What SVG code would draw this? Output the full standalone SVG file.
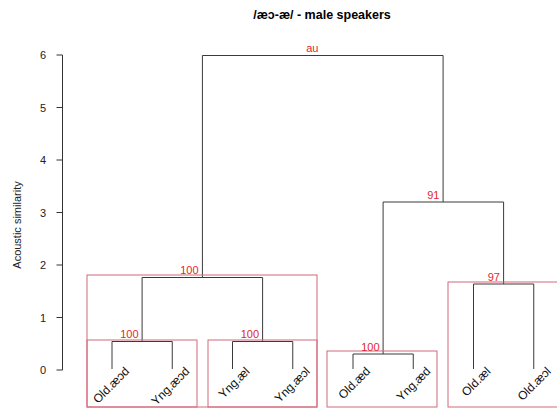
<svg xmlns="http://www.w3.org/2000/svg" width="557" height="408" viewBox="0 0 557 408">
  <style>
    text { font-family: "Liberation Sans", Arial, sans-serif; }
    .title { font-size: 12.5px; font-weight: bold; fill: #000; text-anchor: middle; }
    .axis { stroke: #333; stroke-width: 1; fill: none; }
    .tick { font-size: 11px; fill: #222; text-anchor: end; }
    .ylab { font-size: 11px; fill: #222; text-anchor: middle; }
    .branch { stroke: #3a3a3a; stroke-width: 1; fill: none; }
    .au { font-size: 11px; fill: #e3262c; text-anchor: end; }
    .box { stroke: #d4687b; stroke-width: 1; fill: none; }
    .leaf { font-size: 12px; fill: #111; text-anchor: end; }
  </style>

  <rect width="557" height="408" fill="#fff"/>

  <text class="title" x="322" y="18.5">/æɔ-æ/ - male speakers</text>

  <!-- vertical axis -->
  <g id="y-axis">
    <path class="axis" d="M62.5,55 V370 M56.5,55 H62.5 M56.5,107.5 H62.5 M56.5,160 H62.5 M56.5,212.5 H62.5 M56.5,265 H62.5 M56.5,317.5 H62.5 M56.5,370 H62.5"/>
    <text class="tick" x="46" y="59">6</text>
    <text class="tick" x="46" y="111.5">5</text>
    <text class="tick" x="46" y="164">4</text>
    <text class="tick" x="46" y="216.5">3</text>
    <text class="tick" x="46" y="269">2</text>
    <text class="tick" x="46" y="321.5">1</text>
    <text class="tick" x="46" y="374">0</text>
    <text class="ylab" transform="translate(20.5,225) rotate(-90)">Acoustic similarity</text>
  </g>

  <!-- dendrogram branches -->
  <g id="connectors">
    <path class="branch" d="M202.4,277.5 V55.5 H443.1 V202"/>
    <path class="branch" d="M142.1,341.5 V277.5 H262.6 V341.5"/>
    <path class="branch" d="M112,369 V341.5 H172.25 V369"/>
    <path class="branch" d="M232.5,369 V341.5 H292.75 V369"/>
    <path class="branch" d="M383.1,354 V202 H503.6 V284"/>
    <path class="branch" d="M353,369 V354 H413.25 V369"/>
    <path class="branch" d="M473.5,369 V284 H533.75 V369"/>
  </g>

  <!-- clusters: support values and highlighted groups -->
  <g id="root">
    <text class="au" x="318.5" y="51.5">au</text>
  </g>
  <g id="cluster-left">
    <rect class="box" x="87" y="275" width="230" height="132"/>
    <text class="au" x="198.5" y="274">100</text>
  </g>
  <g id="cluster-aeod">
    <rect class="box" x="87" y="340" width="110" height="67"/>
    <text class="au" x="138.5" y="337.5">100</text>
  </g>
  <g id="cluster-ael-young">
    <rect class="box" x="208" y="340" width="109" height="67"/>
    <text class="au" x="259" y="337.5">100</text>
  </g>
  <g id="cluster-right">
    <text class="au" x="439.5" y="198.5">91</text>
  </g>
  <g id="cluster-aed">
    <rect class="box" x="327" y="351" width="110" height="56"/>
    <text class="au" x="379.5" y="350.5">100</text>
  </g>
  <g id="cluster-old-ael">
    <rect class="box" x="448" y="282" width="112" height="125"/>
    <text class="au" x="500" y="280.5">97</text>
  </g>

  <!-- leaf labels -->
  <g id="leaf-old-aeod"><text class="leaf" transform="translate(130,372) rotate(-45)">Old.æɔd</text></g>
  <g id="leaf-yng-aeod"><text class="leaf" transform="translate(190.25,372) rotate(-45)">Yng.æɔd</text></g>
  <g id="leaf-yng-ael"><text class="leaf" transform="translate(250.5,372) rotate(-45)">Yng.æl</text></g>
  <g id="leaf-yng-aeol"><text class="leaf" transform="translate(310.75,372) rotate(-45)">Yng.æɔl</text></g>
  <g id="leaf-old-aed"><text class="leaf" transform="translate(371,372) rotate(-45)">Old.æd</text></g>
  <g id="leaf-yng-aed"><text class="leaf" transform="translate(431.25,372) rotate(-45)">Yng.æd</text></g>
  <g id="leaf-old-ael"><text class="leaf" transform="translate(491.5,372) rotate(-45)">Old.æl</text></g>
  <g id="leaf-old-aeol"><text class="leaf" transform="translate(551.75,372) rotate(-45)">Old.æɔl</text></g>
</svg>
